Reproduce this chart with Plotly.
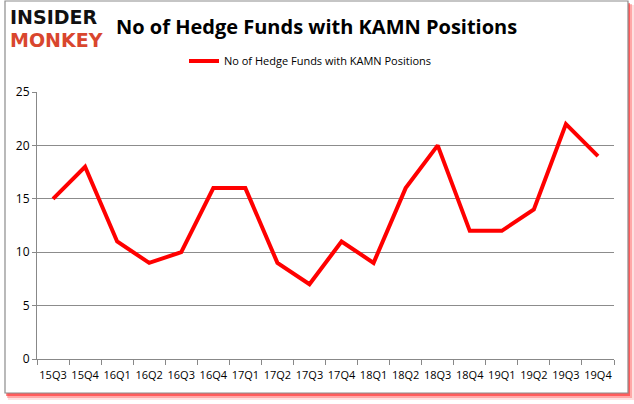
import plotly.graph_objects as go

quarters = ["15Q3", "15Q4", "16Q1", "16Q2", "16Q3", "16Q4", "17Q1", "17Q2", "17Q3",
            "17Q4", "18Q1", "18Q2", "18Q3", "18Q4", "19Q1", "19Q2", "19Q3", "19Q4"]
funds = [15, 18, 11, 9, 10, 16, 16, 9, 7, 11, 9, 16, 20, 12, 12, 14, 22, 19]
y_ticks = [0, 5, 10, 15, 20, 25]
series_name = "No of Hedge Funds with KAMN Positions"
title_text = "No of Hedge Funds with KAMN Positions"

W, H = 634, 404
L, R, T, B = 37, 20, 92, 45
pw, ph = W - L - R, H - T - B

def px(x):
    return (x - L) / pw

def py(y):
    return (H - B - y) / ph

fig = go.Figure()
fig.add_trace(go.Scatter(
    x=quarters, y=funds, mode="lines", name=series_name,
    line=dict(color="#ff0000", width=4),
))

shapes = [
    # soft red shadow
    dict(type="rect", xref="paper", yref="paper", x0=px(8), x1=px(634), y0=py(400), y1=py(5),
         fillcolor="rgba(255,0,0,0.12)", line=dict(width=0), layer="below"),
    dict(type="rect", xref="paper", yref="paper", x0=px(7), x1=px(632), y0=py(398), y1=py(4),
         fillcolor="rgba(255,0,0,0.25)", line=dict(width=0), layer="below"),
    dict(type="rect", xref="paper", yref="paper", x0=px(6), x1=px(630), y0=py(396), y1=py(3),
         fillcolor="rgba(255,0,0,0.45)", line=dict(width=0), layer="below"),
    # frame
    dict(type="rect", xref="paper", yref="paper", x0=px(5), x1=px(628), y0=py(393), y1=py(1),
         fillcolor="white", line=dict(color="#8c8c8c", width=1.2), layer="below"),
]

annotations = [
    dict(text="<b>INSIDER</b>", x=px(8), y=py(17), xref="paper", yref="paper",
         xanchor="left", yanchor="middle", showarrow=False,
         font=dict(family="DejaVu Sans", size=19, color="#111111")),
    dict(text="<b>MONKEY</b>", x=px(8), y=py(40), xref="paper", yref="paper",
         xanchor="left", yanchor="middle", showarrow=False,
         font=dict(family="DejaVu Sans", size=19, color="#d9462e")),
    dict(text="<b>" + title_text + "</b>", x=px(316), y=py(26), xref="paper", yref="paper",
         xanchor="center", yanchor="middle", showarrow=False,
         font=dict(family="Open Sans", size=20, color="#000000")),
]

fig.update_layout(
    width=W, height=H,
    margin=dict(l=L, r=R, t=T, b=B, pad=0, autoexpand=False),
    paper_bgcolor="white", plot_bgcolor="white",
    showlegend=True,
    legend=dict(orientation="h", x=px(184), y=py(61), xanchor="left", yanchor="middle",
                font=dict(family="Open Sans", size=11, color="#000000"),
                bgcolor="rgba(0,0,0,0)", itemwidth=30),
    shapes=shapes,
    annotations=annotations,
    xaxis=dict(
        type="category", tickson="boundaries", ticks="outside", ticklen=5,
        tickcolor="#888888", showline=True, linecolor="#888888", linewidth=1,
        showgrid=False, tickangle=0, ticklabelstandoff=6,
        tickfont=dict(family="Open Sans", size=11, color="#000000"),
        range=[-0.5, len(quarters) - 0.5],
    ),
    yaxis=dict(
        range=[0, 25], tickvals=y_ticks, ticks="outside", ticklen=4, tickcolor="#888888",
        showline=True, linecolor="#888888", linewidth=1,
        showgrid=True, gridcolor="#8c8c8c", gridwidth=1, zeroline=False,
        tickfont=dict(family="Open Sans", size=12, color="#000000"),
    ),
)

fig.write_html("out.html", config={"displayModeBar": False},
               post_script="document.body.style.margin='0';document.body.style.padding='0';")
